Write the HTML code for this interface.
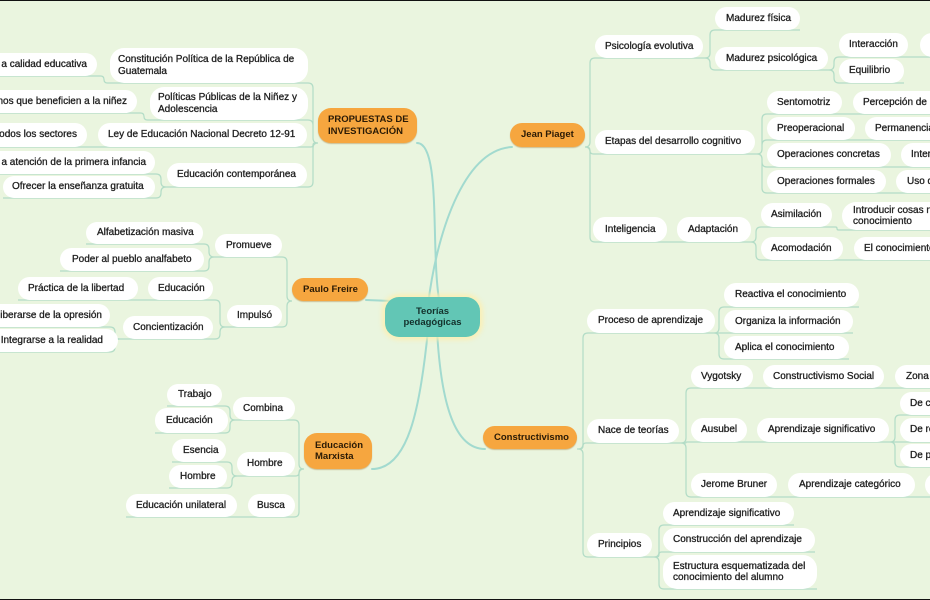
<!DOCTYPE html>
<html><head><meta charset="utf-8">
<style>
html,body{margin:0;padding:0;}
body{width:930px;height:600px;overflow:hidden;position:relative;background:#eaf5df;font-family:"Liberation Sans",Arial,sans-serif;}
#bt{position:absolute;left:0;top:0;width:930px;height:1px;background:#111;z-index:5}
#bb{position:absolute;left:0;top:599px;width:930px;height:1px;background:#111;z-index:5}
svg{position:absolute;left:0;top:0;z-index:1}
.n{position:absolute;box-sizing:border-box;background:#fff;border-radius:12px;font-size:10px;color:#1e1e1e;-webkit-text-stroke:0.3px #1e1e1e;display:flex;align-items:center;white-space:nowrap;line-height:11.5px;z-index:2;overflow:hidden}
.r{justify-content:flex-end}
.o{background:#f6a63f;color:#2a1a05;-webkit-text-stroke:0;font-weight:bold;font-size:9.5px;box-shadow:0 1px 1px rgba(150,90,0,0.35);border-radius:13px}
.c{background:#62c6b5;color:#13302b;font-weight:bold;font-size:9.5px;-webkit-text-stroke:0;justify-content:center;text-align:center;border-radius:14px;box-shadow:0 0 4px 3px rgba(255,238,170,0.75)}
</style></head><body>
<div id="bt"></div><div id="bb"></div>
<svg id="s" width="930" height="600" viewBox="0 0 930 600">
<g fill="none" stroke="#a2dacf" stroke-width="2" stroke-linecap="round">
<path d="M417 143 C442 143, 430 255, 440 305"/>
<path d="M512 147 C462 150, 436 238, 428 305"/>
<path d="M366 300 L392 301"/>
<path d="M372 469 C408 469, 420 410, 428 330"/>
<path d="M485 449 C455 449, 441 405, 437 330"/>
</g>
<g id="g" fill="none" stroke="#b2dcc6" stroke-width="1.2"></g>
</svg>

<!-- Center -->
<div class="n c" style="left:385px;top:297px;width:95px;height:40px">Teorías<br>pedagógicas</div>

<!-- PROPUESTAS -->
<div class="n o" style="left:318px;top:108px;width:99px;height:35px;padding-left:10px">PROPUESTAS DE<br>INVESTIGACIÓN</div>
<div class="n" style="left:110px;top:48px;width:198px;height:35px;padding-left:8px;border-radius:14px">Constitución Política de la República de<br>Guatemala</div>
<div class="n r" style="left:-30px;top:53px;width:127px;height:23px;padding-right:10px">a calidad educativa</div>
<div class="n" style="left:150px;top:87px;width:158px;height:33px;padding-left:8px;border-radius:14px">Políticas Públicas de la Niñez y<br>Adolescencia</div>
<div class="n r" style="left:-30px;top:90px;width:167px;height:23px;padding-right:10px">nos que beneficien a la niñez</div>
<div class="n" style="left:98px;top:123px;width:209px;height:24px;padding-left:10px">Ley de Educación Nacional Decreto 12-91</div>
<div class="n r" style="left:-30px;top:123px;width:117px;height:24px;padding-right:10px">odos los sectores</div>
<div class="n" style="left:167px;top:163px;width:140px;height:24px;padding-left:10px">Educación contemporánea</div>
<div class="n r" style="left:-30px;top:151px;width:185px;height:23px;padding-right:9px">a atención de la primera infancia</div>
<div class="n" style="left:3px;top:176px;width:152px;height:22px;padding-left:9px">Ofrecer la enseñanza gratuita</div>

<!-- Paulo Freire -->
<div class="n o" style="left:292px;top:278px;width:76px;height:23px;padding-left:11px">Paulo Freire</div>
<div class="n" style="left:215px;top:234px;width:67px;height:23px;padding-left:11px">Promueve</div>
<div class="n" style="left:227px;top:305px;width:55px;height:22px;padding-left:10px">Impulsó</div>
<div class="n" style="left:86px;top:222px;width:117px;height:22px;padding-left:11px">Alfabetización masiva</div>
<div class="n" style="left:60px;top:248px;width:144px;height:23px;padding-left:12px">Poder al pueblo analfabeto</div>
<div class="n" style="left:148px;top:277px;width:65px;height:23px;padding-left:10px">Educación</div>
<div class="n" style="left:123px;top:316px;width:90px;height:23px;padding-left:10px">Concientización</div>
<div class="n" style="left:18px;top:277px;width:120px;height:23px;padding-left:10px">Práctica de la libertad</div>
<div class="n r" style="left:-30px;top:304px;width:140px;height:23px;padding-right:8px">iberarse de la opresión</div>
<div class="n r" style="left:-30px;top:329px;width:148px;height:23px;padding-right:15px">Integrarse a la realidad</div>

<!-- Educación Marxista -->
<div class="n o" style="left:304px;top:433px;width:68px;height:36px;padding-left:11px">Educación<br>Marxista</div>
<div class="n" style="left:233px;top:397px;width:62px;height:23px;padding-left:10px">Combina</div>
<div class="n" style="left:237px;top:452px;width:58px;height:24px;padding-left:10px">Hombre</div>
<div class="n" style="left:248px;top:494px;width:47px;height:23px;padding-left:9px">Busca</div>
<div class="n" style="left:167px;top:384px;width:55px;height:22px;padding-left:11px">Trabajo</div>
<div class="n" style="left:155px;top:408px;width:73px;height:25px;padding-left:11px">Educación</div>
<div class="n" style="left:172px;top:439px;width:54px;height:23px;padding-left:11px">Esencia</div>
<div class="n" style="left:169px;top:465px;width:58px;height:23px;padding-left:11px">Hombre</div>
<div class="n" style="left:126px;top:494px;width:111px;height:23px;padding-left:10px">Educación unilateral</div>

<!-- Jean Piaget -->
<div class="n o" style="left:510px;top:123px;width:75px;height:24px;padding-left:11px">Jean Piaget</div>
<div class="n" style="left:595px;top:35px;width:108px;height:23px;padding-left:10px">Psicología evolutiva</div>
<div class="n" style="left:595px;top:130px;width:160px;height:24px;padding-left:10px">Etapas del desarrollo cognitivo</div>
<div class="n" style="left:593px;top:217px;width:74px;height:25px;padding-left:12px">Inteligencia</div>
<div class="n" style="left:715px;top:7px;width:85px;height:23px;padding-left:11px">Madurez física</div>
<div class="n" style="left:715px;top:47px;width:113px;height:23px;padding-left:11px">Madurez psicológica</div>
<div class="n" style="left:839px;top:33px;width:69px;height:24px;padding-left:10px">Interacción</div>
<div class="n" style="left:920px;top:33px;width:40px;height:24px"></div>
<div class="n" style="left:839px;top:59px;width:65px;height:24px;padding-left:10px">Equilibrio</div>
<div class="n" style="left:767px;top:91px;width:75px;height:23px;padding-left:10px">Sentomotriz</div>
<div class="n" style="left:853px;top:91px;width:107px;height:23px;padding-left:10px">Percepción de</div>
<div class="n" style="left:767px;top:117px;width:88px;height:23px;padding-left:10px">Preoperacional</div>
<div class="n" style="left:865px;top:117px;width:95px;height:23px;padding-left:10px">Permanencia</div>
<div class="n" style="left:767px;top:143px;width:124px;height:24px;padding-left:10px">Operaciones concretas</div>
<div class="n" style="left:901px;top:143px;width:59px;height:24px;padding-left:10px">Inter</div>
<div class="n" style="left:767px;top:170px;width:119px;height:23px;padding-left:10px">Operaciones formales</div>
<div class="n" style="left:896px;top:170px;width:64px;height:23px;padding-left:11px">Uso de</div>
<div class="n" style="left:677px;top:217px;width:74px;height:25px;padding-left:11px">Adaptación</div>
<div class="n" style="left:761px;top:203px;width:71px;height:24px;padding-left:10px">Asimilación</div>
<div class="n" style="left:842px;top:202px;width:118px;height:28px;padding-left:11px;border-radius:14px">Introducir cosas nuevas al<br>conocimiento</div>
<div class="n" style="left:761px;top:237px;width:82px;height:23px;padding-left:10px">Acomodación</div>
<div class="n" style="left:854px;top:237px;width:106px;height:23px;padding-left:10px">El conocimiento</div>

<!-- Constructivismo -->
<div class="n o" style="left:483px;top:426px;width:94px;height:23px;padding-left:11px">Constructivismo</div>
<div class="n" style="left:587px;top:309px;width:128px;height:24px;padding-left:11px">Proceso de aprendizaje</div>
<div class="n" style="left:587px;top:419px;width:92px;height:24px;padding-left:11px">Nace de teorías</div>
<div class="n" style="left:587px;top:533px;width:65px;height:24px;padding-left:11px">Principios</div>
<div class="n" style="left:724px;top:283px;width:135px;height:24px;padding-left:11px">Reactiva el conocimiento</div>
<div class="n" style="left:724px;top:310px;width:129px;height:23px;padding-left:11px">Organiza la información</div>
<div class="n" style="left:724px;top:336px;width:125px;height:23px;padding-left:11px">Aplica el conocimiento</div>
<div class="n" style="left:691px;top:365px;width:62px;height:23px;padding-left:10px">Vygotsky</div>
<div class="n" style="left:763px;top:365px;width:121px;height:23px;padding-left:10px">Constructivismo Social</div>
<div class="n" style="left:895px;top:365px;width:65px;height:23px;padding-left:11px">Zona de</div>
<div class="n" style="left:691px;top:418px;width:56px;height:24px;padding-left:10px">Ausubel</div>
<div class="n" style="left:757px;top:418px;width:132px;height:24px;padding-left:11px">Aprendizaje significativo</div>
<div class="n" style="left:900px;top:392px;width:60px;height:23px;padding-left:10px">De conceptos</div>
<div class="n" style="left:900px;top:418px;width:60px;height:24px;padding-left:10px">De representaciones</div>
<div class="n" style="left:900px;top:444px;width:60px;height:23px;padding-left:10px">De proposiciones</div>
<div class="n" style="left:691px;top:473px;width:86px;height:24px;padding-left:10px">Jerome Bruner</div>
<div class="n" style="left:788px;top:473px;width:127px;height:24px;padding-left:11px">Aprendizaje categórico</div>
<div class="n" style="left:925px;top:473px;width:35px;height:24px"></div>
<div class="n" style="left:663px;top:502px;width:131px;height:23px;padding-left:10px">Aprendizaje significativo</div>
<div class="n" style="left:663px;top:528px;width:152px;height:24px;padding-left:10px">Construcción del aprendizaje</div>
<div class="n" style="left:663px;top:555px;width:154px;height:34px;padding-left:10px;border-radius:14px">Estructura esquematizada del<br>conocimiento del alumno</div>

<script>
var G=[
 [318,143,313,[[83,110],[120,150],[147,98],[187,167]]],
 [110,83,104,[[76,-30]]],
 [150,120,144,[[113,-30]]],
 [98,147,93,[[147,-30]]],
 [167,187,161,[[174,-30],[198,3]]],
 [292,301,287,[[257,215],[327,227]]],
 [215,257,209,[[244,86],[271,60]]],
 [227,327,220,[[300,148],[339,123]]],
 [148,300,143,[[300,18]]],
 [123,339,115,[[327,-30],[352,-30]]],
 [304,469,299,[[420,233],[476,237],[517,248]]],
 [233,420,230,[[406,167],[433,155]]],
 [237,476,232,[[462,172],[488,169]]],
 [248,517,242,[[517,126]]],
 [585,147,590,[[58,703],[154,755],[242,667]]],
 [703,58,710,[[30,800],[70,828]]],
 [828,70,834,[[57,908],[83,904]]],
 [908,57,914,[[57,960]]],
 [755,154,762,[[114,842],[140,855],[167,891],[193,886]]],
 [842,114,848,[[114,960]]],
 [855,140,860,[[140,960]]],
 [891,167,896,[[167,960]]],
 [886,193,891,[[193,960]]],
 [667,242,672,[[242,751]]],
 [751,242,756,[[227,832],[260,843]]],
 [832,227,837,[[230,960]]],
 [843,260,848,[[260,960]]],
 [577,449,583,[[333,715],[443,679],[557,652]]],
 [715,333,719,[[307,859],[333,853],[359,849]]],
 [679,443,686,[[388,753],[442,747],[497,777]]],
 [753,388,758,[[388,884]]],
 [884,388,890,[[388,960]]],
 [747,442,752,[[442,889]]],
 [889,442,895,[[415,960],[442,960],[467,960]]],
 [777,497,782,[[497,915]]],
 [915,497,920,[[497,960]]],
 [652,557,659,[[525,794],[552,815],[589,817]]]
];
function seg(px,py,bx,cy,ce){
 var dir=bx>px?1:-1,dy=cy-py;
 if(Math.abs(dy)<0.5) return 'M'+px+' '+py+'H'+ce;
 var s=dy>0?1:-1,r=Math.min(5,Math.abs(dy)/2);
 return 'M'+px+' '+py+'H'+(bx-dir*r)+'Q'+bx+' '+py+' '+bx+' '+(py+s*r)+'V'+(cy-s*r)+'Q'+bx+' '+cy+' '+(bx+dir*r)+' '+cy+'H'+ce;
}
var g=document.getElementById('g'),d='';
G.forEach(function(p){p[3].forEach(function(c){d+=seg(p[0],p[1],p[2],c[0],c[1]);});});
var el=document.createElementNS('http://www.w3.org/2000/svg','path');
el.setAttribute('d',d);g.appendChild(el);
</script>
</body></html>
